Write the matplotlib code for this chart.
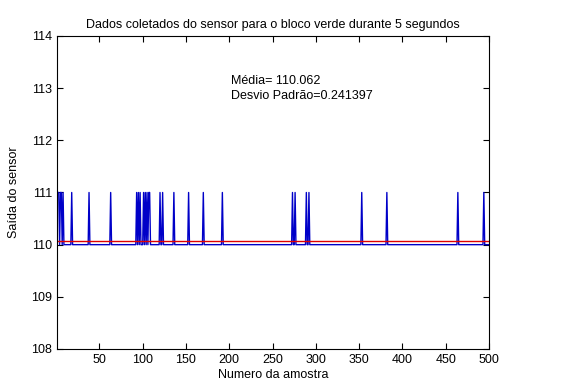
import numpy as np
import matplotlib
matplotlib.use('Agg')
import matplotlib.pyplot as plt

plt.rcParams['font.family'] = ['Liberation Sans', 'DejaVu Sans']

# leituras do sensor: 500 amostras, 110 com picos em 111
n_amostras = 500
base = 110
pico = 111
idx_pico = [1, 2, 3, 5, 6, 8, 18, 38, 63, 93, 95, 97, 101, 103, 105, 107, 108,
            120, 123, 136, 153, 170, 192, 273, 276, 289, 292, 353, 382, 464, 494]

amostras = np.arange(1, n_amostras + 1)
leituras = np.full(n_amostras, base, dtype=float)
leituras[np.array(idx_pico) - 1] = pico

media = 110.062
desvio = 0.241397

fig = plt.figure(figsize=(5.61, 3.92), dpi=100)
ax = fig.add_axes([0.1016, 0.1097, 0.7701, 0.7985])

ax.plot(amostras, leituras, color='#0000c8', lw=1)
ax.plot(amostras, np.full(n_amostras, media), color='#e00000', lw=1)

ax.set_xlim(1, 500)
ax.set_ylim(108, 114)
ax.set_xticks([50, 100, 150, 200, 250, 300, 350, 400, 450, 500])
ax.set_yticks([108, 109, 110, 111, 112, 113, 114])
ax.tick_params(direction='in', top=True, right=True, labelsize=9, length=4, width=0.8)
for s in ax.spines.values():
    s.set_linewidth(0.8)

ax.set_title('Dados coletados do sensor para o bloco verde durante 5 segundos', fontsize=9, pad=6)
ax.set_xlabel('Numero da amostra', fontsize=9, labelpad=2)
ax.set_ylabel('Saída do sensor', fontsize=9, labelpad=8)

ax.text(202, 113.0, 'Média= %.3f\nDesvio Padrão=%.6f' % (media, desvio),
        fontsize=9, va='center', ha='left', linespacing=1.3)

fig.savefig('out.png', dpi=100)
